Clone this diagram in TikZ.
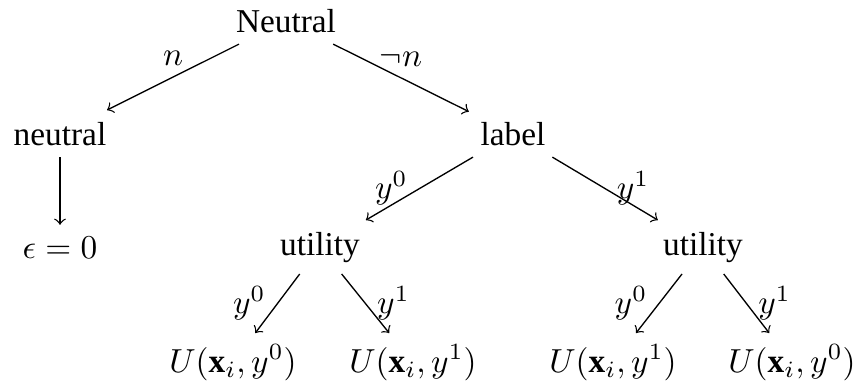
\documentclass[tikz,border=0pt]{standalone}
\usepackage{fontspec}
\setmainfont{Liberation Serif}
\begin{document}
\begin{tikzpicture}[x=0.3pt,y=-0.3pt,
  tn/.style={anchor=base, font=\fontsize{10}{12}\selectfont},
  arr/.style={->, line width=0.4pt},
  lab/.style={font=\fontsize{10}{12}\selectfont}]
\useasboundingbox (0,0) rectangle (853,380);
\node[tn] (root) at (286,32) {Neutral};
\node[tn] (neu) at (60,145) {neutral};
\node[tn] (lab) at (513,145) {label};
\node[tn] (eps) at (60,258) {$\epsilon = 0$};
\node[tn] (u0) at (320,255) {utility};
\node[tn] (u1) at (703,255) {utility};
\node[tn] (l1) at (233,372) {$U(\mathbf{x}_i, y^0)$};
\node[tn] (l2) at (413,372) {$U(\mathbf{x}_i, y^1)$};
\node[tn] (l3) at (613,372) {$U(\mathbf{x}_i, y^1)$};
\node[tn] (l4) at (792,372) {$U(\mathbf{x}_i, y^0)$};
\draw[arr] (root) -- node[lab, above] {$n$} (neu);
\draw[arr] (root) -- node[lab, above] {$\neg n$} (lab);
\draw[arr] (neu) -- (eps);
\draw[arr] (lab) -- node[lab, left] {$y^0$} (u0);
\draw[arr] (lab) -- node[lab, right] {$y^1$} (u1);
\draw[arr] (u0) -- node[lab, left] {$y^0$} (l1);
\draw[arr] (u0) -- node[lab, right] {$y^1$} (l2);
\draw[arr] (u1) -- node[lab, left] {$y^0$} (l3);
\draw[arr] (u1) -- node[lab, right] {$y^1$} (l4);
\end{tikzpicture}
\end{document}
